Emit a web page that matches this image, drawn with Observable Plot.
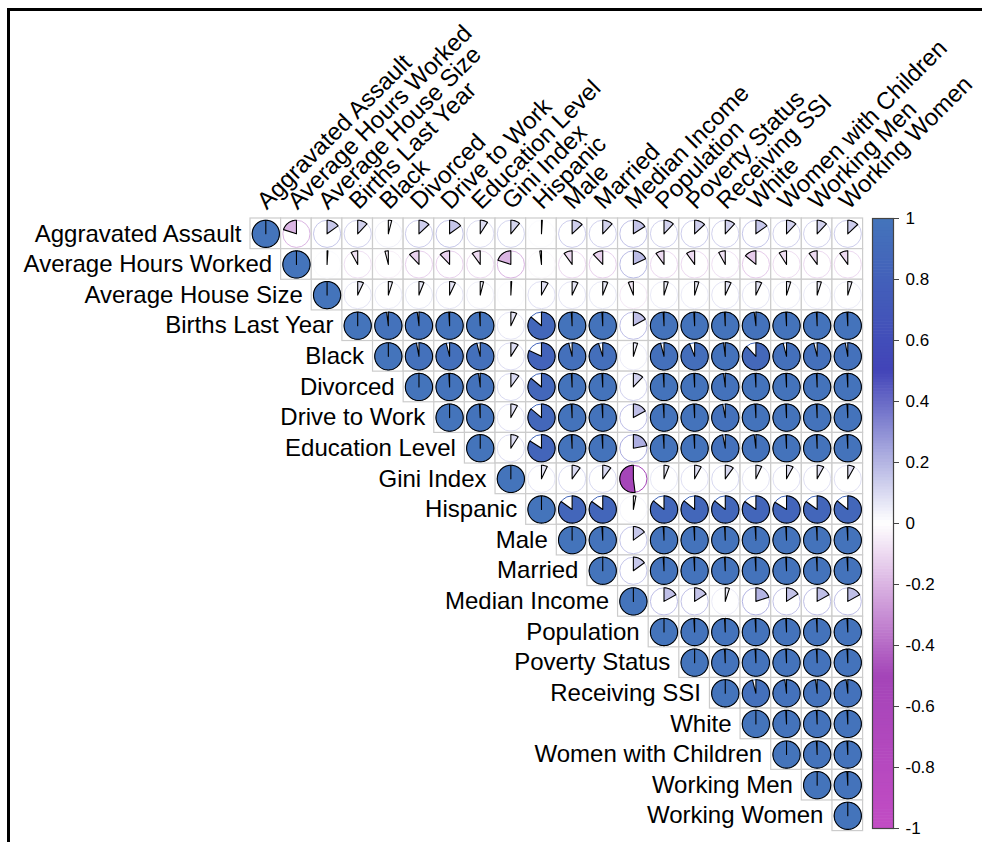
<!DOCTYPE html>
<html>
<head>
<meta charset="utf-8">
<script src="https://cdn.jsdelivr.net/npm/d3@7"></script>
<script src="https://cdn.jsdelivr.net/npm/@observablehq/plot@0.6"></script>
<style>
  html, body { margin: 0; padding: 0; background: #fff; }
  #wrap { position: relative; width: 982px; height: 842px; overflow: hidden; }
  #frame { position: absolute; left: 7px; top: 8px; width: 1000px; height: 900px;
           border-left: 3px solid #000; border-top: 3px solid #000; box-sizing: border-box; }
  #main { position: absolute; left: 0; top: 0; }
  #bar { position: absolute; left: 862px; top: 0; }
</style>
</head>
<body>
<div id="wrap">
  <div id="frame"></div>
  <div id="main"></div>
  <div id="bar"></div>
</div>
<script>
// ---- data ----
const vars = ["Aggravated Assault","Average Hours Worked","Average House Size","Births Last Year","Black","Divorced","Drive to Work","Education Level","Gini Index","Hispanic","Male","Married","Median Income","Population","Poverty Status","Receiving SSI","White","Women with Children","Working Men","Working Women"];

// upper triangle, each row starts at the diagonal
const rowAggravatedAssault = [1, -0.20, 0.15, 0.12, 0.04, 0.13, 0.15, 0.09, 0.11, 0.01, 0.13, 0.12, 0.16, 0.12, 0.13, 0.12, 0.15, 0.12, 0.12, 0.13];
const rowHoursWorked = [1, 0.01, -0.08, -0.04, -0.12, -0.12, -0.10, -0.20, -0.02, -0.10, -0.12, 0.18, -0.10, -0.10, -0.08, -0.14, -0.09, -0.10, -0.10];
const rowHouseSize = [1, 0.07, 0.05, 0.06, 0.07, 0.04, 0.01, 0.08, 0.07, 0.06, -0.06, 0.05, 0.05, 0.07, 0.07, 0.05, 0.05, 0.05];
const rowBirths = [1, 0.98, 0.98, 0.99, 0.99, 0.07, 0.86, 0.99, 0.99, 0.17, 0.99, 0.99, 0.99, 0.98, 0.99, 0.99, 0.99];
const rowBlack = [1, 0.97, 0.96, 0.96, 0.09, 0.82, 0.96, 0.95, 0.05, 0.96, 0.94, 0.98, 0.88, 0.96, 0.96, 0.97];
const rowDivorced = [1, 0.99, 0.98, 0.10, 0.86, 0.99, 0.99, 0.12, 0.99, 0.99, 0.98, 0.99, 0.99, 0.99, 0.99];
const rowDrive = [1, 0.99, 0.08, 0.86, 0.99, 0.99, 0.17, 0.99, 0.99, 0.97, 0.99, 0.99, 0.99, 0.99];
const rowEducation = [1, 0.09, 0.84, 0.99, 0.99, 0.22, 0.99, 0.99, 0.97, 0.98, 0.99, 0.99, 0.99];
const rowGini = [1, 0.07, 0.10, 0.10, -0.52, 0.06, 0.08, 0.10, 0.07, 0.08, 0.08, 0.08];
const rowHispanic = [1, 0.85, 0.85, 0.03, 0.86, 0.86, 0.86, 0.85, 0.84, 0.85, 0.86];
const rowMale = [1, 0.99, 0.15, 0.99, 0.99, 0.99, 0.99, 0.99, 0.99, 0.99];
const rowMarried = [1, 0.15, 0.99, 0.99, 0.99, 0.99, 0.99, 0.99, 0.99];
const rowMedianIncome = [1, 0.17, 0.16, 0.05, 0.20, 0.16, 0.17, 0.17];
const rowPopulation = [1, 0.99, 0.99, 0.99, 0.99, 0.99, 0.99];
const rowPoverty = [1, 0.99, 0.99, 0.99, 0.99, 0.99];
const rowSSI = [1, 0.96, 0.98, 0.98, 0.98];
const rowWhite = [1, 0.99, 0.99, 0.99];
const rowWomenChildren = [1, 0.99, 0.99];
const rowWorkingMen = [1, 0.99];
const rowWorkingWomen = [1];

const legendTicks = [-1, -0.8, -0.6, -0.4, -0.2, 0, 0.2, 0.4, 0.6, 0.8, 1];

const rows = [rowAggravatedAssault, rowHoursWorked, rowHouseSize, rowBirths, rowBlack, rowDivorced, rowDrive, rowEducation, rowGini, rowHispanic, rowMale, rowMarried, rowMedianIncome, rowPopulation, rowPoverty, rowSSI, rowWhite, rowWomenChildren, rowWorkingMen, rowWorkingWomen];

// ---- build tables ----
const cells = [];
rows.forEach((r, i) => r.forEach((v, k) => cells.push({i: i + 1, j: i + 1 + k, v, id: cells.length})));

const R = 0.444; // pie radius in cell units
const wedgePts = [];
for (const c of cells) {
  const a = Math.abs(c.v), s = Math.sign(c.v) || 1;
  const n = Math.max(2, Math.ceil(a * 96));
  wedgePts.push({id: c.id, v: c.v, x: c.j, y: c.i});
  for (let k = 0; k <= n; k++) {
    const t = 2 * Math.PI * a * k / n;
    wedgePts.push({id: c.id, v: c.v, x: c.j + s * R * Math.sin(t), y: c.i - R * Math.cos(t)});
  }
}

const colorScale = {type: "linear", domain: [-1, -0.5, 0, 0.5, 1],
  range: ["#c24cc4", "#a445b8", "#ffffff", "#4244b8", "#4474bb"]};

const font = "'Liberation Sans', Arial, Helvetica, sans-serif";
const S = 30.63;

const main = Plot.plot({
  width: 982, height: 842, margin: 0,
  x: {domain: [0.5, 20.5], range: [250, 250 + 20 * S], axis: null},
  y: {domain: [0.5, 20.5], range: [218, 218 + 20 * S], axis: null},
  color: colorScale,
  style: {fontFamily: font, background: "transparent"},
  marks: [
    Plot.rect(cells, {x1: d => d.j - 0.5, x2: d => d.j + 0.5, y1: d => d.i - 0.5, y2: d => d.i + 0.5,
      fill: "white", stroke: "#cccccc", strokeWidth: 1.2}),
    Plot.dot(cells, {x: "j", y: "i", r: R * S, stroke: "v", fill: "none", strokeWidth: 1}),
    Plot.line(wedgePts, {x: "x", y: "y", z: "id", fill: "v", stroke: "black", strokeWidth: 1.1,
      curve: "linear-closed", strokeLinejoin: "round"}),
    Plot.text(vars, {x: (d, k) => k + 0.5, y: (d, k) => k + 1, text: d => d, textAnchor: "end",
      dx: -9, fontSize: 24, fill: "black"}),
    Plot.text(vars, {x: (d, k) => k + 1, y: 0.5, text: d => d, textAnchor: "start", rotate: -45,
      lineAnchor: "bottom", dx: 1, dy: -8, fontSize: 24, fill: "black"})
  ]
});
document.getElementById("main").appendChild(main);

// colour bar
const slices = d3.range(-1, 1, 0.01).map(a => ({a, b: Math.min(1, a + 0.012), v: a + 0.005}));
const bar = Plot.plot({
  width: 120, height: 842, marginLeft: 10, marginRight: 89, marginTop: 218, marginBottom: 14,
  x: {domain: [0, 1], axis: null},
  y: {domain: [-1, 1], axis: null},
  color: colorScale,
  style: {fontFamily: font, background: "transparent"},
  marks: [
    Plot.rect(slices, {x1: 0, x2: 1, y1: "a", y2: "b", fill: "v"}),
    Plot.frame({stroke: "#444", strokeWidth: 1.2}),
    Plot.axisY({anchor: "right", ticks: legendTicks, tickFormat: d => String(+d.toFixed(1)),
      tickSize: 5, tickPadding: 7, fontSize: 17, stroke: "#444"})
  ]
});
document.getElementById("bar").appendChild(bar);
</script>
</body>
</html>
